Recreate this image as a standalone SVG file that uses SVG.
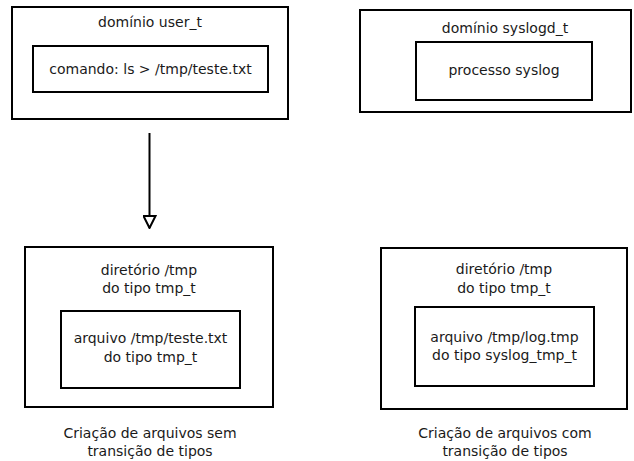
<svg xmlns="http://www.w3.org/2000/svg" width="634" height="461" viewBox="0 0 634 461">
<style>
.box{fill:#fff;stroke:#000;stroke-width:2}
text{font-family:"DejaVu Sans",Verdana,sans-serif;font-size:14px;fill:#1a1a1a;text-anchor:middle}
.conn{stroke:#000;stroke-width:2;fill:none}
</style>
<defs>
<marker id="tri" viewBox="0 0 14 14" refX="13" refY="7" markerWidth="14" markerHeight="14" markerUnits="userSpaceOnUse" orient="auto">
<path d="M1,1 L13,7 L1,13 Z" fill="#fff" stroke="#000" stroke-width="2"/>
</marker>
</defs>
<rect width="634" height="461" fill="#fff"/>
<g id="user_t">
<rect class="box" x="12" y="7" width="276" height="112"/>
<text x="150" y="27">domínio user_t</text>
<g id="comando">
<rect class="box" x="33" y="46" width="235" height="46"/>
<text x="150.5" y="74">comando: ls &gt; /tmp/teste.txt</text>
</g>
</g>
<g id="syslogd_t">
<rect class="box" x="360" y="10" width="271" height="102"/>
<text x="505" y="33">domínio syslogd_t</text>
<g id="processo">
<rect class="box" x="416" y="42" width="176" height="58"/>
<text x="504" y="75">processo syslog</text>
</g>
</g>
<g id="connectors">
<line class="conn" x1="149.5" y1="133" x2="149.5" y2="228" marker-end="url(#tri)"/>
</g>
<g id="tmp_left">
<rect class="box" x="25" y="247" width="248" height="160"/>
<text x="149" y="275">diretório /tmp</text>
<text x="149" y="293">do tipo tmp_t</text>
<g id="arquivo_left">
<rect class="box" x="61" y="311" width="179" height="77"/>
<text x="150.5" y="343">arquivo /tmp/teste.txt</text>
<text x="150.5" y="362">do tipo tmp_t</text>
</g>
</g>
<g id="tmp_right">
<rect class="box" x="381" y="248" width="246" height="161"/>
<text x="504" y="274">diretório /tmp</text>
<text x="504" y="293">do tipo tmp_t</text>
<g id="arquivo_right">
<rect class="box" x="415" y="307" width="179" height="79"/>
<text x="504.5" y="342">arquivo /tmp/log.tmp</text>
<text x="504.5" y="360">do tipo syslog_tmp_t</text>
</g>
</g>
<g id="caption_left">
<text x="150" y="438">Criação de arquivos sem</text>
<text x="150" y="456">transição de tipos</text>
</g>
<g id="caption_right">
<text x="505" y="438">Criação de arquivos com</text>
<text x="505" y="456">transição de tipos</text>
</g>
</svg>
